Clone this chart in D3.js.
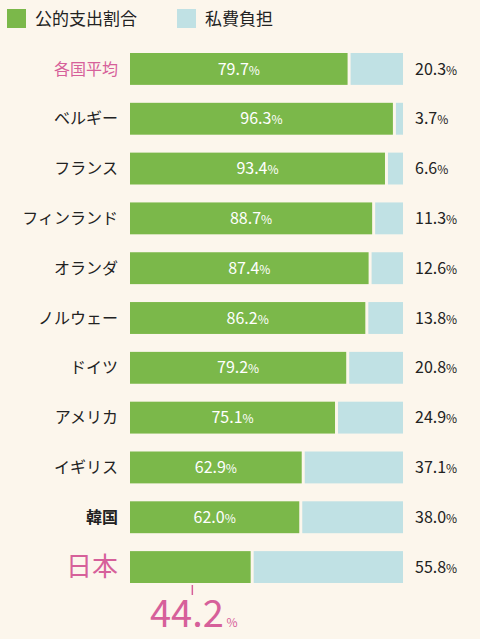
<!DOCTYPE html><html><head><meta charset="utf-8"><script src="https://cdn.jsdelivr.net/npm/d3@7"></script>
<style>body{margin:0;background:#fcf6ec}svg{display:block;font-family:"Noto Sans CJK JP",sans-serif}</style></head><body><svg id="c" width="480" height="639"></svg><script>
const categories=["各国平均","ベルギー","フランス","フィンランド","オランダ","ノルウェー","ドイツ","アメリカ","イギリス","韓国","日本"];
const publicShare=[79.7,96.3,93.4,88.7,87.4,86.2,79.2,75.1,62.9,62.0,44.2];
const privateShare=[20.3,3.7,6.6,11.3,12.6,13.8,20.8,24.9,37.1,38.0,55.8];
const legendLabels=["公的支出割合","私費負担"];
const G="#7bb84a",B="#c0e1e4",P="#d6609a";
const svg=d3.select("#c");
svg.append("rect").attr("width",480).attr("height",639).attr("fill","#fcf6ec");
const x=d3.scaleLinear().domain([0,100]).range([130,403]);
const y=d3.scaleBand().domain(categories).range([53,583]).paddingInner(0.36).paddingOuter(0);
[[G,legendLabels[0],7],[B,legendLabels[1],177]].forEach(([c,t,lx])=>{
 svg.append("rect").attr("x",lx).attr("y",9).attr("width",19).attr("height",19).attr("fill",c);
 svg.append("text").attr("x",lx+28).attr("y",25).attr("font-size",17).attr("fill","#222").text(t);});
const g=svg.selectAll("g.r").data(categories).join("g");
g.append("rect").attr("x",x(0)).attr("y",d=>y(d)).attr("height",y.bandwidth()).attr("width",(d,i)=>x(publicShare[i])-x(0)).attr("fill",G);
g.append("rect").attr("x",(d,i)=>x(publicShare[i])+3).attr("y",d=>y(d)).attr("height",y.bandwidth()).attr("width",(d,i)=>x(100)-x(publicShare[i])-3).attr("fill",B);
g.append("text").attr("x",118).attr("y",d=>y(d)+y.bandwidth()/2).attr("dy","0.35em").attr("text-anchor","end")
 .attr("font-size",(d,i)=>i==10?26:16).attr("font-weight",(d,i)=>i==9?"bold":"normal").attr("fill",(d,i)=>i==0||i==10?P:"#222").text(d=>d);
function pct(sel,v,big,small){sel.append("tspan").text(v.toFixed(1)).attr("font-size",big);sel.append("tspan").text("%").attr("font-size",small);}
g.filter((d,i)=>i<10).append("text").attr("x",(d,i)=>(x(0)+x(publicShare[i]))/2).attr("y",d=>y(d)+y.bandwidth()/2).attr("dy","0.35em").attr("text-anchor","middle").attr("fill","#fff").each(function(d,i){pct(d3.select(this),publicShare[i],16,12);});
g.append("text").attr("x",415).attr("y",d=>y(d)+y.bandwidth()/2).attr("dy","0.35em").attr("fill","#222").each(function(d,i){pct(d3.select(this),privateShare[i],16,12);});
const j=categories[10],jx=x(0)+(x(publicShare[10])-x(0))/2+2;
svg.append("line").attr("x1",jx).attr("x2",jx).attr("y1",y(j)+y.bandwidth()+2).attr("y2",y(j)+y.bandwidth()+12).attr("stroke",P).attr("stroke-width",1.5);
const t=svg.append("text").attr("x",150).attr("y",627).attr("fill",P);
t.append("tspan").text(publicShare[10].toFixed(1)).attr("font-size",38);t.append("tspan").text(" %").attr("font-size",12);
</script></body></html>
